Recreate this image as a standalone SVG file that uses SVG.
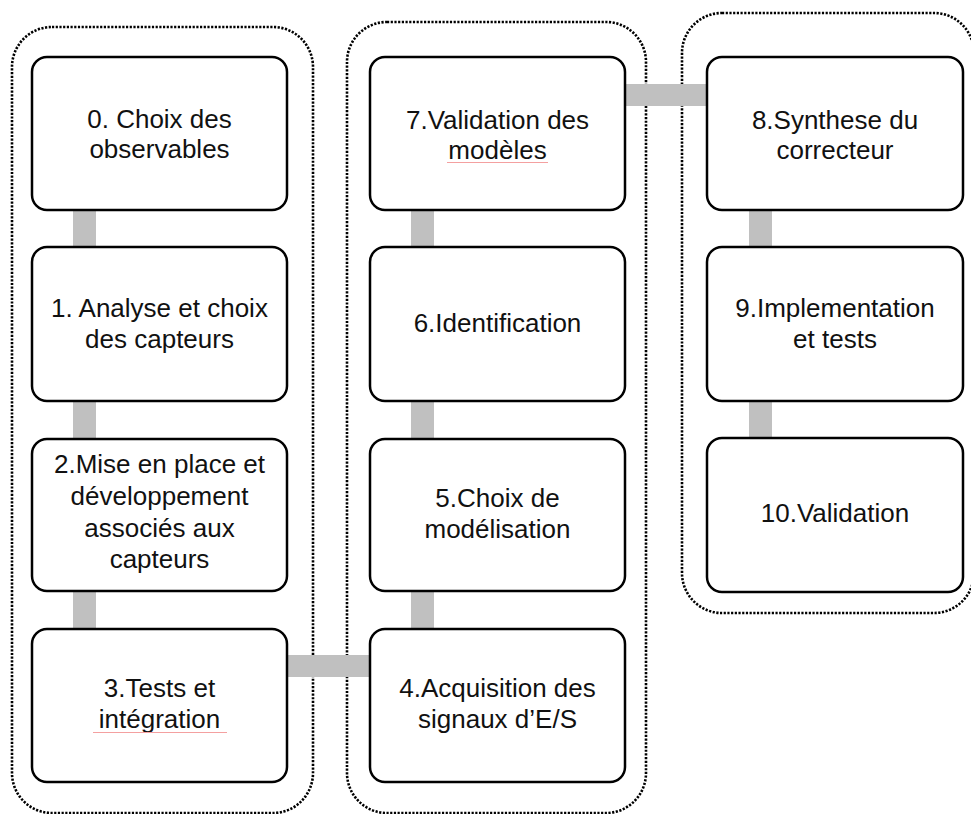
<svg xmlns="http://www.w3.org/2000/svg" width="971" height="814" viewBox="0 0 971 814">
<style>
.grp{fill:none;stroke:#000;stroke-width:2.6;stroke-dasharray:2.2 1.5}
.box{fill:#fff;stroke:#000;stroke-width:2.5}
.bar{fill:#c0c0c0}
text{font-family:"Liberation Sans","Open Sans",sans-serif;font-size:26px;fill:#111;text-anchor:middle}
.sq{stroke:#f4a0a0;stroke-width:1;fill:none}
</style>
<rect width="971" height="814" fill="#fff"/>
<g id="groups">
<rect class="grp" x="12" y="27" width="301" height="786" rx="40"/>
<rect class="grp" x="347" y="22" width="299" height="791" rx="40"/>
<rect class="grp" x="682" y="13" width="292" height="600" rx="40"/>
</g>
<g id="connectors">
<rect class="bar" x="73" y="210" width="23" height="37"/>
<rect class="bar" x="73" y="401" width="23" height="38"/>
<rect class="bar" x="73" y="591" width="23" height="38"/>
<rect class="bar" x="287" y="655" width="83" height="22"/>
<rect class="bar" x="411" y="591" width="23" height="38"/>
<rect class="bar" x="411" y="401" width="23" height="38"/>
<rect class="bar" x="411" y="210" width="23" height="37"/>
<rect class="bar" x="625" y="84" width="83" height="22"/>
<rect class="bar" x="749" y="210" width="23" height="37"/>
<rect class="bar" x="749" y="401" width="23" height="37"/>
</g>
<g id="n0"><rect class="box" x="32" y="57" width="255" height="153" rx="15"/>
<text x="159.5" y="128">0. Choix des</text><text x="159.5" y="158">observables</text></g>
<g id="n1"><rect class="box" x="32" y="247" width="255" height="154" rx="15"/>
<text x="159.5" y="317">1. Analyse et choix</text><text x="159.5" y="348">des capteurs</text></g>
<g id="n2"><rect class="box" x="32" y="439" width="255" height="152" rx="15"/>
<text x="159.5" y="473">2.Mise en place et</text><text x="159.5" y="505">développement</text><text x="159.5" y="537">associés aux</text><text x="159.5" y="568">capteurs</text></g>
<g id="n3"><rect class="box" x="32" y="629" width="255" height="153" rx="15"/>
<text x="159.5" y="697">3.Tests et</text><text x="159.5" y="728">intégration</text>
<path class="sq" d="M93 732.5 H227"/></g>
<g id="n4"><rect class="box" x="370" y="629" width="255" height="153" rx="15"/>
<text x="497.5" y="697">4.Acquisition des</text><text x="497.5" y="728">signaux d’E/S</text></g>
<g id="n5"><rect class="box" x="370" y="439" width="255" height="152" rx="15"/>
<text x="497.5" y="507">5.Choix de</text><text x="497.5" y="538">modélisation</text></g>
<g id="n6"><rect class="box" x="370" y="247" width="255" height="154" rx="15"/>
<text x="497.5" y="332">6.Identification</text></g>
<g id="n7"><rect class="box" x="370" y="57" width="255" height="153" rx="15"/>
<text x="497.5" y="129">7.Validation des</text><text x="497.5" y="159">modèles</text>
<path class="sq" d="M447 162.5 H548"/></g>
<g id="n8"><rect class="box" x="707" y="57" width="256" height="153" rx="15"/>
<text x="835" y="129">8.Synthese du</text><text x="835" y="159">correcteur</text></g>
<g id="n9"><rect class="box" x="707" y="247" width="256" height="154" rx="15"/>
<text x="835" y="317">9.Implementation</text><text x="835" y="348">et tests</text></g>
<g id="n10"><rect class="box" x="707" y="438" width="256" height="154" rx="15"/>
<text x="835" y="522">10.Validation</text></g>
</svg>
